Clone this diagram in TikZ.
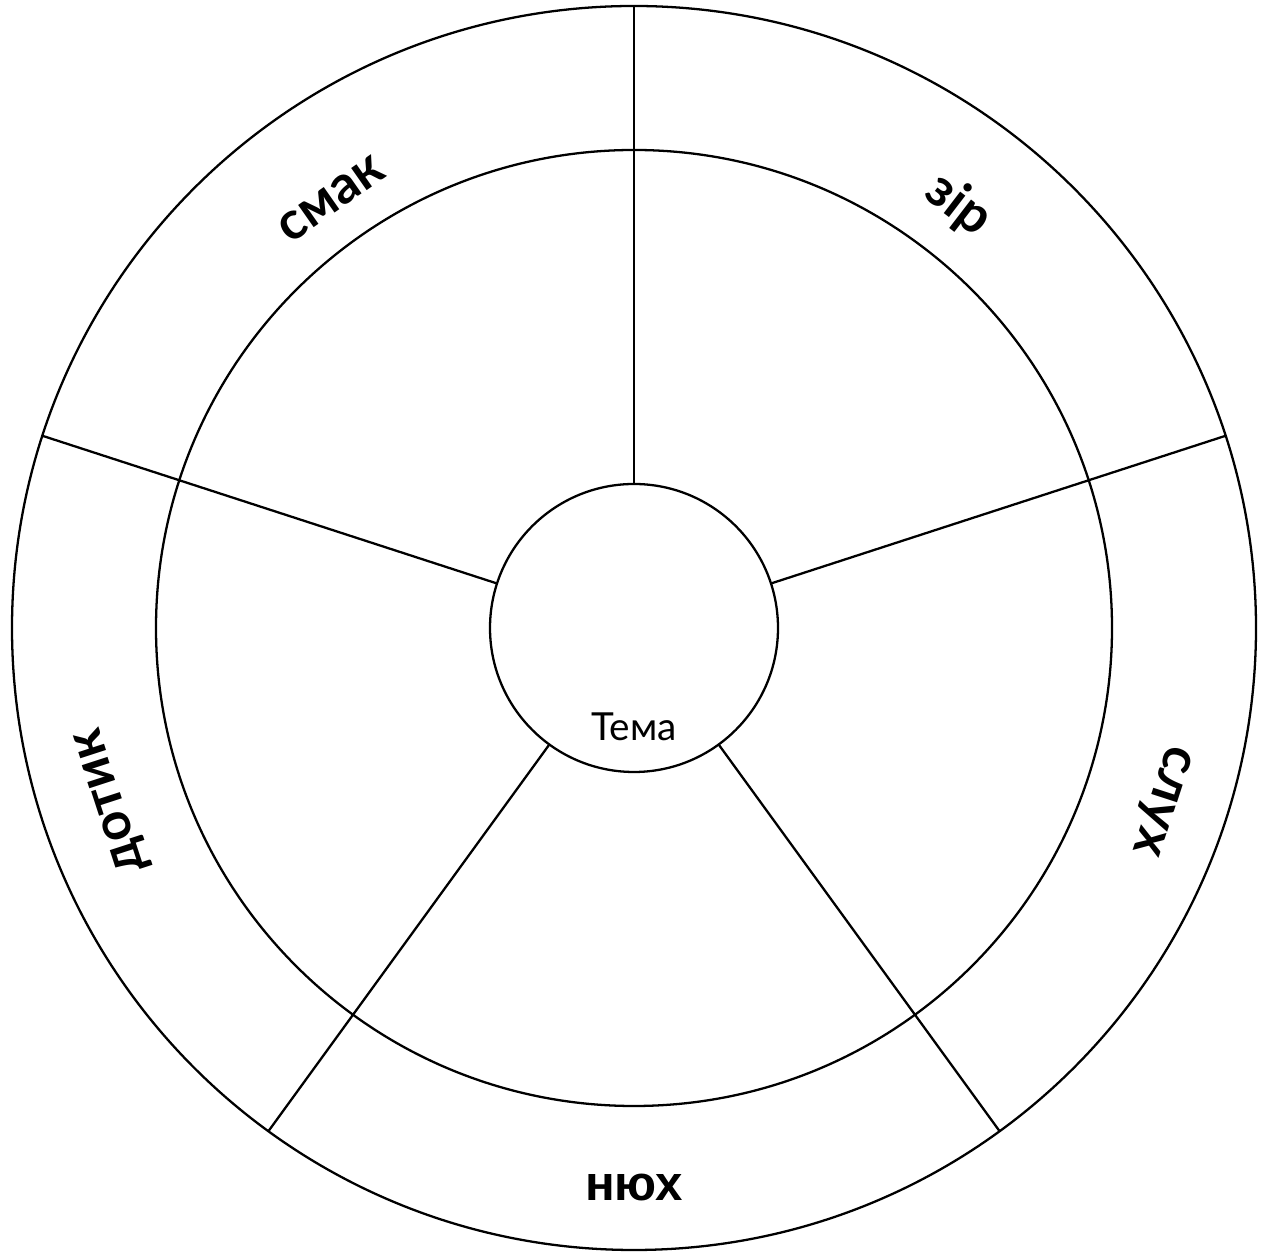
\documentclass[tikz,border=0pt]{standalone}
\usepackage{fontspec}
\usetikzlibrary{calc}
\newfontfamily\gothic{Lato}
\newfontfamily\arialfont{Liberation Sans}
\definecolor{cInk}{HTML}{000000}

\begin{document}
\begin{tikzpicture}[cInk, line width=0.65pt,
  ring/.style={draw, circle, inner sep=0pt, outer sep=0pt, minimum size=#1},
  sense/.style={font=\gothic\bfseries\fontsize{15}{18}\selectfont, inner sep=1pt}]
  \useasboundingbox (0,0) rectangle (12.64,12.53);
  \coordinate (centre) at (6.34,6.25);
  \node[ring=12.44cm] (rim) at (centre) {};
  \node[ring=9.56cm] (wall) at (centre) {};
  \node[ring=2.88cm] (hub) at (centre) {};
  \node[font=\gothic\fontsize{11}{13}\selectfont] (topic) at ($(hub.center)+(0,-0.99)$) {Тема};
  % spokes
  \foreach \a in {90,18,-54,-126,162}
    \draw (hub.\a) -- (rim.\a);
  % senses
  \node[sense, rotate=35] (smak) at ($(centre)+(125.2:5.25)$) {смак};
  \node[sense, rotate=-37.5] (zir) at ($(centre)+(52.5:5.33)$) {зір};
  \node[sense, rotate=-108] (slukh) at ($(centre)+(-18.1:5.53)$) {слух};
  \node[sense, rotate=108] (dotyk) at ($(centre)+(198.3:5.49)$) {дотик};
  \node[font=\arialfont\bfseries\fontsize{14}{17}\selectfont] (niukh) at ($(centre)+(0,-5.6)$) {нюх};
\end{tikzpicture}
\end{document}
